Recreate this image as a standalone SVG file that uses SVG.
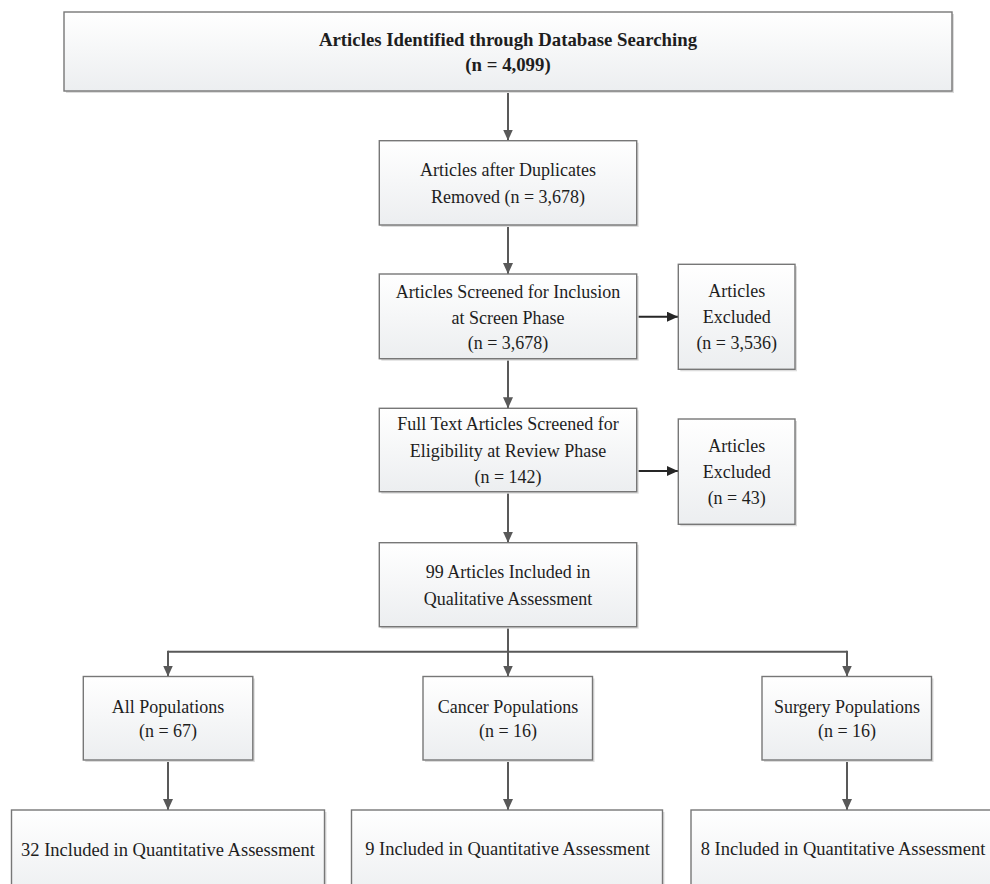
<svg xmlns="http://www.w3.org/2000/svg" width="990" height="884" viewBox="0 0 990 884">
<defs>
<linearGradient id="fillg" x1="0" y1="0" x2="0" y2="1">
<stop offset="0" stop-color="#ffffff"/>
<stop offset="1" stop-color="#eceef0"/>
</linearGradient>
<marker id="ah" markerUnits="userSpaceOnUse" markerWidth="11" markerHeight="10" refX="11" refY="5" orient="auto">
<path d="M0,0 L11,5 L0,10 z" fill="#595959"/>
</marker>
<marker id="ahd" markerUnits="userSpaceOnUse" markerWidth="11" markerHeight="10" refX="11" refY="5" orient="auto">
<path d="M0,0 L11,5 L0,10 z" fill="#262626"/>
</marker>
</defs>
<style>
.sh{fill:#dcdcdc;}
.bx{fill:url(#fillg);stroke:#777777;stroke-width:1.4;}
.t{font-family:"Liberation Serif","Times New Roman",serif;font-size:18px;fill:#1e1e1e;text-anchor:middle;}
.tb{font-family:"Liberation Serif","Times New Roman",serif;font-size:18.8px;font-weight:bold;fill:#1e1e1e;text-anchor:middle;}
.tl{font-family:"Liberation Serif","Times New Roman",serif;font-size:18.5px;fill:#1e1e1e;text-anchor:middle;}
.c{fill:none;stroke:#595959;stroke-width:2;}
.cd{fill:none;stroke:#262626;stroke-width:2;}
</style>
<rect width="990" height="884" fill="#ffffff"/>

<g id="connectors">
<line class="c" x1="508" y1="91" x2="508" y2="140.5" marker-end="url(#ah)"/>
<line class="c" x1="508" y1="225" x2="508" y2="274" marker-end="url(#ah)"/>
<line class="c" x1="508" y1="358.7" x2="508" y2="408.3" marker-end="url(#ah)"/>
<line class="c" x1="508" y1="491.7" x2="508" y2="542.7" marker-end="url(#ah)"/>
<line class="cd" x1="637" y1="316.7" x2="678" y2="316.7" marker-end="url(#ahd)"/>
<line class="cd" x1="637" y1="471" x2="678" y2="471" marker-end="url(#ahd)"/>
<line class="c" x1="508" y1="626.7" x2="508" y2="651.7"/>
<line class="c" x1="168" y1="651.7" x2="847" y2="651.7"/>
<line class="c" x1="168" y1="650.7" x2="168" y2="676.5" marker-end="url(#ah)"/>
<line class="c" x1="508" y1="651.7" x2="508" y2="676.5" marker-end="url(#ah)"/>
<line class="c" x1="847" y1="650.7" x2="847" y2="676.5" marker-end="url(#ah)"/>
<line class="c" x1="168" y1="760" x2="168" y2="810" marker-end="url(#ah)"/>
<line class="c" x1="508" y1="760" x2="508" y2="810" marker-end="url(#ah)"/>
<line class="c" x1="847" y1="760" x2="847" y2="810" marker-end="url(#ah)"/>
</g>

<g id="n1">
<rect class="sh" x="66" y="14" width="888" height="79"/>
<rect class="bx" x="64" y="12" width="888" height="79"/>
<text class="tb" x="508" y="46">Articles Identified through Database Searching</text>
<text class="tb" x="508" y="71">(n = 4,099)</text>
</g>

<g id="n2">
<rect class="sh" x="381.3" y="142.7" width="257.4" height="84.3"/>
<rect class="bx" x="379.3" y="140.7" width="257.4" height="84.3"/>
<text class="t" x="508" y="176">Articles after Duplicates</text>
<text class="t" x="508" y="202.5">Removed (n = 3,678)</text>
</g>

<g id="n3">
<rect class="sh" x="381.3" y="276" width="257.4" height="84.7"/>
<rect class="bx" x="379.3" y="274" width="257.4" height="84.7"/>
<text class="t" x="508" y="298">Articles Screened for Inclusion</text>
<text class="t" x="508" y="323.5">at Screen Phase</text>
<text class="t" x="508" y="349">(n = 3,678)</text>
</g>

<g id="n3x">
<rect class="sh" x="680.3" y="266.3" width="116.7" height="105"/>
<rect class="bx" x="678.3" y="264.3" width="116.7" height="105"/>
<text class="t" x="736.7" y="297">Articles</text>
<text class="t" x="736.7" y="323">Excluded</text>
<text class="t" x="736.7" y="349">(n = 3,536)</text>
</g>

<g id="n4">
<rect class="sh" x="381.3" y="410.3" width="257.4" height="83.4"/>
<rect class="bx" x="379.3" y="408.3" width="257.4" height="83.4"/>
<text class="t" x="508" y="430">Full Text Articles Screened for</text>
<text class="t" x="508" y="456.5">Eligibility at Review Phase</text>
<text class="t" x="508" y="483">(n = 142)</text>
</g>

<g id="n4x">
<rect class="sh" x="680.3" y="421" width="116.7" height="105.3"/>
<rect class="bx" x="678.3" y="419" width="116.7" height="105.3"/>
<text class="t" x="736.7" y="452">Articles</text>
<text class="t" x="736.7" y="478">Excluded</text>
<text class="t" x="736.7" y="504">(n = 43)</text>
</g>

<g id="n5">
<rect class="sh" x="381.3" y="544.7" width="257.4" height="84"/>
<rect class="bx" x="379.3" y="542.7" width="257.4" height="84"/>
<text class="t" x="508" y="578">99 Articles Included in</text>
<text class="t" x="508" y="605">Qualitative Assessment</text>
</g>

<g id="p1">
<rect class="sh" x="85.3" y="678.5" width="169.5" height="83.5"/>
<rect class="bx" x="83.3" y="676.5" width="169.5" height="83.5"/>
<text class="t" x="168" y="713">All Populations</text>
<text class="t" x="168" y="737">(n = 67)</text>
</g>

<g id="p2">
<rect class="sh" x="425" y="678.5" width="169.5" height="83.5"/>
<rect class="bx" x="423" y="676.5" width="169.5" height="83.5"/>
<text class="t" x="508" y="713">Cancer Populations</text>
<text class="t" x="508" y="737">(n = 16)</text>
</g>

<g id="p3">
<rect class="sh" x="764" y="678.5" width="169.5" height="83.5"/>
<rect class="bx" x="762" y="676.5" width="169.5" height="83.5"/>
<text class="t" x="847" y="713">Surgery Populations</text>
<text class="t" x="847" y="737">(n = 16)</text>
</g>

<g id="q1">
<rect class="sh" x="13.5" y="812" width="313" height="90"/>
<rect class="bx" x="11.5" y="810" width="313" height="90"/>
<text class="tl" x="168" y="856">32 Included in Quantitative Assessment</text>
</g>

<g id="q2">
<rect class="sh" x="353.5" y="812" width="311" height="90"/>
<rect class="bx" x="351.5" y="810" width="311" height="90"/>
<text class="tl" x="507.5" y="855">9 Included in Quantitative Assessment</text>
</g>

<g id="q3">
<rect class="sh" x="693" y="812" width="313" height="90"/>
<rect class="bx" x="691" y="810" width="313" height="90"/>
<text class="tl" x="843" y="855">8 Included in Quantitative Assessment</text>
</g>
</svg>
